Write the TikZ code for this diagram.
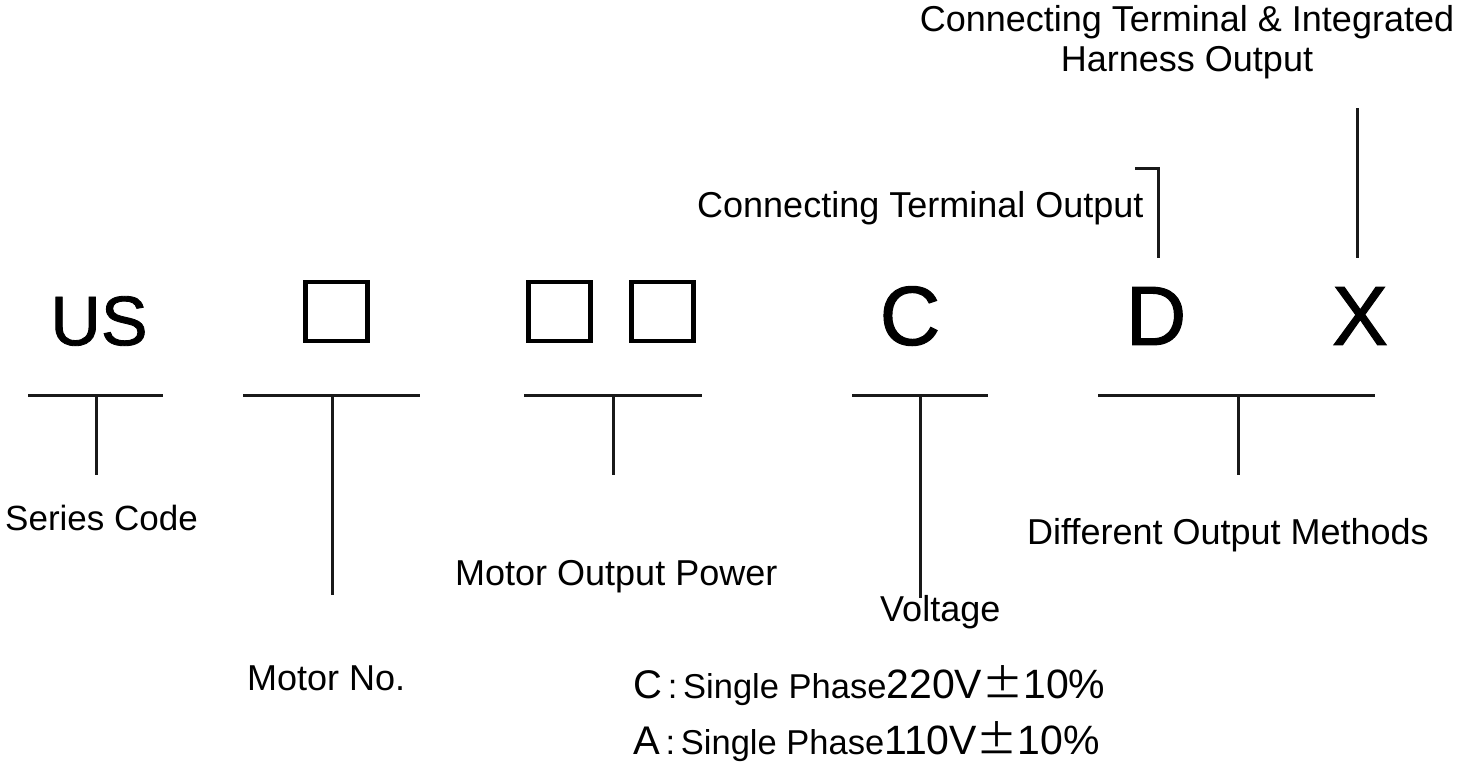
\documentclass[tikz,border=0pt]{standalone}
\usepackage{fontspec}
\setmainfont{Liberation Sans}
\newfontfamily\bigf[FakeBold=1.2]{Liberation Sans}
\newfontfamily\cjkf{Noto Sans CJK SC}
\newcommand\fsz[1]{\fontsize{#1}{#1}\selectfont}
\begin{document}
\begin{tikzpicture}[x=1pt,y=-1pt,
  lbl/.style={anchor=west,inner sep=0pt,font=\fsz{36}},
  big/.style={inner sep=0pt,font=\bigf\fsz{84}},
  ln/.style={line width=3pt,draw=black!90},
  sq/.style={draw,line width=4.5pt,minimum width=62pt,minimum height=59pt,inner sep=0pt}]
\useasboundingbox (0,0) rectangle (1461,764);
% code characters
\node[inner sep=0pt,font=\bigf\fsz{70}] (us) at (99,321) {US};
\node[sq] (b1) at (336.5,311.5) {};
\node[sq] (b2) at (559.5,311.5) {};
\node[sq] (b3) at (662.5,311.5) {};
\node[big] (c) at (910,316) {C};
\node[big] (d) at (1156,316) {D};
\node[big] (x) at (1360,316) {X};
% T bars
\coordinate (t1l) at (28,395); \coordinate (t1r) at (163,395);
\coordinate (t1m) at (96,395); \coordinate (t1e) at (96,475);
\coordinate (t2l) at (243,395); \coordinate (t2r) at (420,395);
\coordinate (t2m) at (332,395); \coordinate (t2e) at (332,595);
\coordinate (t3l) at (524,395); \coordinate (t3r) at (702,395);
\coordinate (t3m) at (613,395); \coordinate (t3e) at (613,475);
\coordinate (t4l) at (852,395); \coordinate (t4r) at (988,395);
\coordinate (t4m) at (920,395); \coordinate (t4e) at (920,598);
\coordinate (t5l) at (1098,395); \coordinate (t5r) at (1375,395);
\coordinate (t5m) at (1238,395); \coordinate (t5e) at (1238,475);
\foreach \i in {1,...,5}{
  \draw[ln] (t\i l) -- (t\i r);
  \draw[ln] (t\i m) -- (t\i e);
}
% labels
\node[lbl,font=\fsz{35}] (series) at (5,518) {Series Code};
\node[lbl] (motorno) at (247,678) {Motor No.};
\node[lbl] (power) at (455,577) {Motor Output Power};
\node[lbl] (volt) at (880,612) {Voltage};
\node[lbl] (diff) at (1027,535) {Different Output Methods};
\node[lbl] (cto) at (697,208) {Connecting Terminal Output};
\node[inner sep=0pt,font=\fsz{36},align=center] (ctih) at (1187,42)
  {Connecting Terminal \& Integrated\\[4pt]Harness Output};
% upper connectors
\coordinate (dk1) at (1135,168); \coordinate (dk2) at (1158,168);
\coordinate (dk3) at (1158,258);
\draw[ln] (dk1) -- (dk2) -- (dk3);
\coordinate (xk1) at (1357,108); \coordinate (xk2) at (1357,258);
\draw[ln] (xk1) -- (xk2);
% voltage options
\node[anchor=west,inner sep=0pt] (optc) at (633,686)
  {{\fsz{40}C}{\fsz{34.5}\,:\,Single Phase}{\fsz{41}220V}{\cjkf\fsz{41}±}{\fsz{41}10\%}};
\node[anchor=west,inner sep=0pt] (opta) at (633,742)
  {{\fsz{40}A}{\fsz{34.5}\,:\,Single Phase}{\fsz{41}110V}{\cjkf\fsz{41}±}{\fsz{41}10\%}};
\end{tikzpicture}
\end{document}
